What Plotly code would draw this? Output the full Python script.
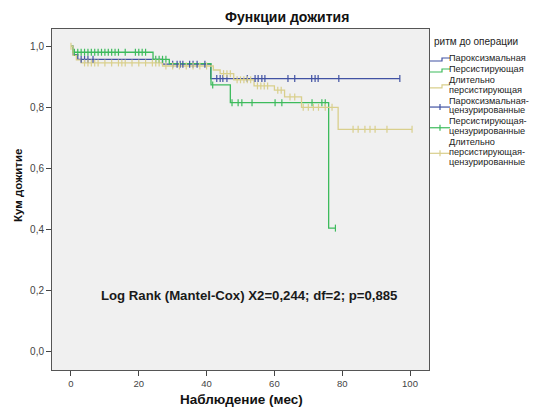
import plotly.graph_objects as go

# Kaplan-Meier step curves: event times and survival after each step
parox_t = [0, 0.6, 2, 27, 41.2]
parox_s = [1.0, 0.972, 0.957, 0.941, 0.894]
parox_end = 97
parox_cens = [3, 4, 5, 6.5, 30, 31.3, 32.2, 33, 35, 36, 37.2, 39.5,
              43, 44, 44.8, 46, 52, 54.3, 55.2, 56.3, 57.2, 64, 66, 71, 72, 72.9, 79, 97]

pers_t = [0, 0.5, 24.2, 29, 41.3, 47, 76]
pers_s = [1.0, 0.98, 0.957, 0.943, 0.873, 0.815, 0.405]
pers_end = 78
pers_cens = [1, 2, 3, 4, 5, 6, 7, 8, 9, 10, 11, 12, 13, 14, 16, 19, 20, 21, 22,
             25, 26, 27, 28, 41.8, 47.5, 49.3, 50.4, 53.4, 60.2, 62.2, 71.1, 74, 75, 78]

long_t = [0, 0.6, 1.6, 3, 27, 42, 44, 48, 54, 60, 63, 68, 78.8]
long_s = [1.0, 0.97, 0.955, 0.945, 0.935, 0.922, 0.91, 0.89, 0.87, 0.856, 0.834, 0.80, 0.728]
long_end = 100.6
long_cens = [0, 4, 5, 6, 7, 8, 10, 12, 14, 15, 16, 18, 20, 22, 24, 25, 26,
             28, 30, 32, 34, 36, 38, 40, 45, 46, 47, 49, 50, 51, 52, 53,
             55, 56, 57, 58, 61, 62, 64.6, 66, 68.5, 70, 71.5, 73, 75, 77,
             83.2, 84.7, 86.7, 88.2, 89.7, 93.2, 100.6]

x_ticks = [0, 20, 40, 60, 80, 100]
y_ticks = [0, 0.2, 0.4, 0.6, 0.8, 1.0]

legend_title = "ритм до операции"
curve_labels = [["Пароксизмальная"], ["Персистирующая"], ["Длительно", "персистирующая"]]
cens_labels = [["Пароксизмальная-", "цензурированные"],
               ["Персистирующая-", "цензурированные"],
               ["Длительно", "персистирующая-", "цензурированные"]]

colors = ["#4152a3", "#3dbb5c", "#d9cf8c"]

groups = [
    (parox_t, parox_s, parox_end, parox_cens),
    (pers_t, pers_s, pers_end, pers_cens),
    (long_t, long_s, long_end, long_cens),
]

W, H = 537, 407
ML, MR, MT, MB = 52, 108, 29, 37
PW, PH = W - ML - MR, H - MT - MB


def px(x):
    return (x - ML) / PW


def py(y):
    return (H - MB - y) / PH


def surv_at(times, surv, t):
    """Survival value of the step function at time t."""
    val = surv[0]
    for ti, si in zip(times, surv):
        if ti <= t:
            val = si
    return val


fig = go.Figure()

# step curves
for (t, s, end, _), col in zip(groups, colors):
    fig.add_trace(go.Scatter(
        x=list(t) + [end], y=list(s) + [s[-1]],
        mode="lines", line=dict(color=col, width=1.3, shape="hv"),
        hoverinfo="skip", showlegend=False,
    ))

# censored observations
for (t, s, _, cens), col in zip(groups, colors):
    fig.add_trace(go.Scatter(
        x=cens, y=[surv_at(t, s, c) for c in cens], mode="markers",
        marker=dict(symbol="line-ns", size=5, line=dict(color=col, width=1.2)),
        hoverinfo="skip", showlegend=False,
    ))

annotations = []
shapes = []


def label(x, y, text, size, color="#111", angle=0, xanchor="center"):
    annotations.append(dict(x=px(x), y=py(y), xref="paper", yref="paper",
                            xanchor=xanchor, yanchor="middle", text=text,
                            textangle=angle, showarrow=False, borderpad=0,
                            font=dict(size=size, color=color)))


# chart title, axis titles and test statistic
label(287, 17, "<b>Функции дожития</b>", 14)
label(241, 399, "<b>Наблюдение (мес)</b>", 13.5)
label(18, 186, "<b>Кум дожитие</b>", 11.5, angle=-90)
label(248.5, 295, "<b>Log Rank (Mantel-Cox) X2=0,244; df=2; p=0,885</b>", 13.2,
      color="#1a1a1a")

# legend drawn by hand for compact SPSS-style rows
label(433, 42, legend_title, 10, color="#222", xanchor="left")

line_h = 9.7
row_y = 58
for kind, labels in (("curve", curve_labels), ("cens", cens_labels)):
    for lines, col in zip(labels, colors):
        for i, txt in enumerate(lines):
            label(448, row_y + i * line_h, txt, 9.2, color="#222", xanchor="left")
        sym_y = row_y + (len(lines) - 1) * line_h / 2 + 1.5
        if kind == "curve":
            path = (f"M {px(430)},{py(sym_y + 1.5)} L {px(442)},{py(sym_y + 1.5)} "
                    f"L {px(442)},{py(sym_y - 1.5)} L {px(450)},{py(sym_y - 1.5)}")
            shapes.append(dict(type="path", xref="paper", yref="paper", path=path,
                               line=dict(color=col, width=1.2)))
        else:
            shapes.append(dict(type="line", xref="paper", yref="paper",
                               x0=px(430), x1=px(450), y0=py(sym_y), y1=py(sym_y),
                               line=dict(color=col, width=1.2)))
            shapes.append(dict(type="line", xref="paper", yref="paper",
                               x0=px(440), x1=px(440), y0=py(sym_y - 3), y1=py(sym_y + 3),
                               line=dict(color=col, width=1.2)))
        row_y += len(lines) * line_h + 1.3

fig.update_layout(
    width=W, height=H,
    margin=dict(l=ML, r=MR, t=MT, b=MB, autoexpand=False),
    paper_bgcolor="white", plot_bgcolor="#f0f0f0",
    separators=", ",
    font=dict(family="Liberation Sans, Arial, sans-serif", size=10, color="#333"),
    showlegend=False,
    annotations=annotations,
    shapes=shapes,
    xaxis=dict(
        range=[-5.6, 105.6], tickvals=x_ticks,
        ticks="outside", ticklen=5, tickcolor="#444",
        tickfont=dict(size=9.5, color="#444"),
        showgrid=False, zeroline=False,
        showline=True, linecolor="#555", linewidth=1, mirror=True,
    ),
    yaxis=dict(
        range=[-0.059, 1.056], tickvals=y_ticks, tickformat=".1f",
        ticks="outside", ticklen=5, tickcolor="#444",
        tickfont=dict(size=10, color="#444"),
        showgrid=False, zeroline=False,
        showline=True, linecolor="#555", linewidth=1, mirror=True,
    ),
)

fig.write_html("out.html")
